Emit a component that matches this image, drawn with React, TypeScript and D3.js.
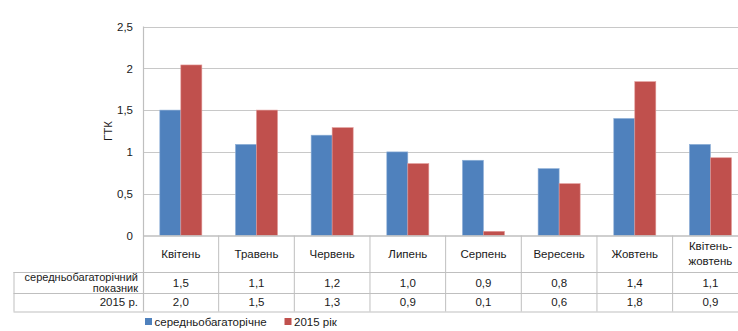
import React, { useEffect, useRef } from "react";
import * as d3 from "d3";

// Monthly hydrothermal coefficient (ГТК): long-term average vs 2015
const categories = [
  "Квітень",
  "Травень",
  "Червень",
  "Липень",
  "Серпень",
  "Вересень",
  "Жовтень",
  "Квітень-жовтень",
];
const averageValues = [1.5, 1.09, 1.2, 1.0, 0.9, 0.8, 1.4, 1.09];
const year2015Values = [2.04, 1.5, 1.29, 0.86, 0.05, 0.62, 1.84, 0.93];
const seriesNames = ["середньобагаторічне", "2015 рік"];
const tableRowLabels = [["середньобагаторічний", "показник"], ["2015 р."]];
const yTicks = [0, 0.5, 1, 1.5, 2, 2.5];

const W = 738;
const H = 331;
const COLORS = ["#4F81BD", "#C0504D"];
const FONT = "'Liberation Sans', Arial, sans-serif";

const uaLocale = d3.formatLocale({
  decimal: ",",
  thousands: " ",
  grouping: [3],
  currency: ["", ""],
});
const fmt1 = uaLocale.format(".1f");
const fmtTick = (v: number) => uaLocale.format("~g")(v);

export default function App() {
  const ref = useRef<SVGSVGElement>(null);

  useEffect(() => {
    const svg = d3.select(ref.current);
    svg.selectAll("*").remove();

    const plotLeft = 143;
    const colW = 75.66;
    const plotTop = 26.5;
    const plotBottom = 235.5;
    const catRowBottom = 272;
    const row1Bottom = 293;
    const row2Bottom = 311.5;
    const tableLeft = 13.5;

    const x = d3
      .scaleBand<string>()
      .domain(categories)
      .range([plotLeft, plotLeft + colW * categories.length])
      .paddingInner(0)
      .paddingOuter(0);

    const y = d3.scaleLinear().domain([0, 2.5]).range([plotBottom, plotTop]);

    const inner = d3
      .scaleBand<number>()
      .domain([0, 1])
      .range([0, x.bandwidth()])
      .paddingInner(0)
      .paddingOuter(0.8);

    const gridColor = "#c8c8c8";
    const tableColor = "#bfbfbf";
    const textColor = "#1a1a1a";

    // Gridlines
    svg
      .append("g")
      .selectAll("line")
      .data(yTicks.filter((t) => t > 0))
      .join("line")
      .attr("x1", plotLeft)
      .attr("x2", W + 20)
      .attr("y1", (d) => Math.round(y(d)) + 0.5)
      .attr("y2", (d) => Math.round(y(d)) + 0.5)
      .attr("stroke", gridColor)
      .attr("stroke-width", 1);

    // Y tick labels
    svg
      .append("g")
      .selectAll("text")
      .data(yTicks)
      .join("text")
      .attr("x", 133)
      .attr("y", (d) => y(d))
      .attr("dy", "0.38em")
      .attr("text-anchor", "end")
      .attr("font-family", FONT)
      .attr("font-size", 11.5)
      .attr("fill", textColor)
      .text((d) => fmtTick(d));

    // Y axis title
    svg
      .append("text")
      .attr("transform", `translate(112,${(plotTop + plotBottom) / 2}) rotate(-90)`)
      .attr("text-anchor", "middle")
      .attr("font-family", FONT)
      .attr("font-size", 11.5)
      .attr("fill", textColor)
      .text("ГТК");

    // Bars
    const seriesData = [averageValues, year2015Values];
    seriesData.forEach((vals, si) => {
      svg
        .append("g")
        .selectAll("rect")
        .data(vals)
        .join("rect")
        .attr("x", (_, i) => (x(categories[i]) as number) + (inner(si) as number))
        .attr("width", inner.bandwidth())
        .attr("y", (d) => y(d))
        .attr("height", (d) => y(0) - y(d))
        .attr("fill", COLORS[si])
        .attr("stroke", si === 0 ? "#8fb0d8" : "#e19896")
        .attr("stroke-width", 0.6);
    });

    // Vertical axis line and zero line
    svg
      .append("line")
      .attr("x1", plotLeft + 0.5)
      .attr("x2", plotLeft + 0.5)
      .attr("y1", plotTop)
      .attr("y2", row2Bottom)
      .attr("stroke", tableColor)
      .attr("stroke-width", 1.2);
    svg
      .append("line")
      .attr("x1", plotLeft)
      .attr("x2", W + 20)
      .attr("y1", plotBottom + 0.5)
      .attr("y2", plotBottom + 0.5)
      .attr("stroke", tableColor)
      .attr("stroke-width", 1.5);

    // Data table grid: column separators
    svg
      .append("g")
      .selectAll("line")
      .data(categories.slice(1).concat(["__end"]))
      .join("line")
      .attr("x1", (_, i) => plotLeft + colW * (i + 1))
      .attr("x2", (_, i) => plotLeft + colW * (i + 1))
      .attr("y1", plotBottom)
      .attr("y2", row2Bottom)
      .attr("stroke", tableColor)
      .attr("stroke-width", 1);

    // Data table grid: row lines
    [catRowBottom, row1Bottom, row2Bottom].forEach((yy) => {
      svg
        .append("line")
        .attr("x1", tableLeft)
        .attr("x2", W + 20)
        .attr("y1", yy + 0.5)
        .attr("y2", yy + 0.5)
        .attr("stroke", tableColor)
        .attr("stroke-width", 1);
    });
    svg
      .append("line")
      .attr("x1", tableLeft + 0.5)
      .attr("x2", tableLeft + 0.5)
      .attr("y1", catRowBottom)
      .attr("y2", row2Bottom)
      .attr("stroke", tableColor)
      .attr("stroke-width", 1);

    // Category labels
    const catG = svg.append("g");
    categories.forEach((c) => {
      const cx = (x(c) as number) + x.bandwidth() / 2;
      const parts = c.includes("-") ? [c.split("-")[0] + "-", c.split("-")[1]] : [c];
      const cy = (plotBottom + catRowBottom) / 2;
      parts.forEach((p, k) => {
        catG
          .append("text")
          .attr("x", cx)
          .attr("y", cy + (k - (parts.length - 1) / 2) * 15)
          .attr("dy", "0.35em")
          .attr("text-anchor", "middle")
          .attr("font-family", FONT)
          .attr("font-size", 11.5)
          .attr("fill", textColor)
          .text(p);
      });
    });

    // Table values
    const rowCenters = [(catRowBottom + row1Bottom) / 2, (row1Bottom + row2Bottom) / 2];
    seriesData.forEach((vals, si) => {
      svg
        .append("g")
        .selectAll("text")
        .data(vals)
        .join("text")
        .attr("x", (_, i) => (x(categories[i]) as number) + x.bandwidth() / 2)
        .attr("y", rowCenters[si])
        .attr("dy", "0.35em")
        .attr("text-anchor", "middle")
        .attr("font-family", FONT)
        .attr("font-size", 11.5)
        .attr("fill", textColor)
        .text((d) => fmt1(d));
    });

    // Table row labels
    tableRowLabels.forEach((lines, ri) => {
      lines.forEach((ln, k) => {
        svg
          .append("text")
          .attr("x", 138)
          .attr("y", rowCenters[ri] + (k - (lines.length - 1) / 2) * 10.8)
          .attr("dy", "0.35em")
          .attr("text-anchor", "end")
          .attr("font-family", FONT)
          .attr("font-size", lines.length > 1 ? 11 : 11.5)
          .attr("fill", textColor)
          .text(ln);
      });
    });

    // Legend
    const legend = svg.append("g");
    const legendX = [145, 284.5];
    seriesNames.forEach((name, i) => {
      legend
        .append("rect")
        .attr("x", legendX[i])
        .attr("y", 318)
        .attr("width", 7)
        .attr("height", 7)
        .attr("fill", COLORS[i]);
      legend
        .append("text")
        .attr("x", legendX[i] + 9.5)
        .attr("y", 321.5)
        .attr("dy", "0.35em")
        .attr("font-family", FONT)
        .attr("font-size", 11.5)
        .attr("fill", textColor)
        .text(name);
    });
  }, []);

  return (
    <svg
      ref={ref}
      width={W}
      height={H}
      style={{ position: "absolute", left: 0, top: 0, background: "#fff", display: "block" }}
    />
  );
}
